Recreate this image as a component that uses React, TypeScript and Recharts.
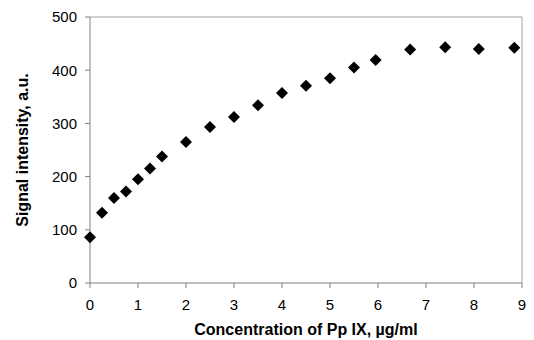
import React from 'react';
import { ScatterChart, Scatter, XAxis, YAxis, ReferenceLine } from 'recharts';

const concentrations = [0, 0.25, 0.5, 0.75, 1, 1.25, 1.5, 2, 2.5, 3, 3.5, 4, 4.5, 5, 5.5, 5.95, 6.67, 7.4, 8.1, 8.84];
const signals = [86, 132, 160, 172, 195, 215, 238, 265, 293, 312, 334, 357, 371, 385, 405, 419, 439, 443, 440, 442];
const xTicks = [0, 1, 2, 3, 4, 5, 6, 7, 8, 9];
const yTicks = [0, 100, 200, 300, 400, 500];

const data = concentrations.map((x, i) => ({ x, y: signals[i] }));

const FONT = '"Liberation Sans", Arial, sans-serif';
const AXIS = '#808080';

const Diamond = (props: any) => {
  const { cx, cy } = props;
  const r = 6;
  return (
    <polygon
      points={`${cx},${cy - r} ${cx + r},${cy} ${cx},${cy + r} ${cx - r},${cy}`}
      fill="#000"
    />
  );
};

export default function App() {
  return (
    <div style={{ position: 'absolute', left: 0, top: 0, background: '#fff' }}>
      <ScatterChart width={534} height={340} margin={{ top: 17, right: 12, bottom: 0, left: 0 }}>
        <XAxis
          type="number"
          dataKey="x"
          domain={[0, 9]}
          ticks={xTicks}
          height={57}
          stroke={AXIS}
          tickSize={5}
          tickMargin={11}
          tick={{ fill: '#000', fontSize: 15, fontFamily: FONT }}
          label={{
            value: 'Concentration of Pp IX, µg/ml',
            position: 'insideBottom',
            offset: 5,
            fill: '#000',
            fontSize: 16,
            fontWeight: 'bold',
            fontFamily: FONT,
          }}
        />
        <YAxis
          type="number"
          dataKey="y"
          domain={[0, 500]}
          ticks={yTicks}
          width={90}
          stroke={AXIS}
          tickSize={5}
          tickMargin={8}
          tick={{ fill: '#000', fontSize: 15, fontFamily: FONT }}
          label={{
            value: 'Signal intensity, a.u.',
            angle: -90,
            position: 'insideLeft',
            offset: 22,
            fill: '#000',
            fontSize: 16,
            fontWeight: 'bold',
            fontFamily: FONT,
            style: { textAnchor: 'middle' },
          }}
        />
        <ReferenceLine y={500} stroke="#a0a0a0" />
        <ReferenceLine x={9} stroke="#a0a0a0" />
        <Scatter data={data} shape={<Diamond />} isAnimationActive={false} />
      </ScatterChart>
    </div>
  );
}
